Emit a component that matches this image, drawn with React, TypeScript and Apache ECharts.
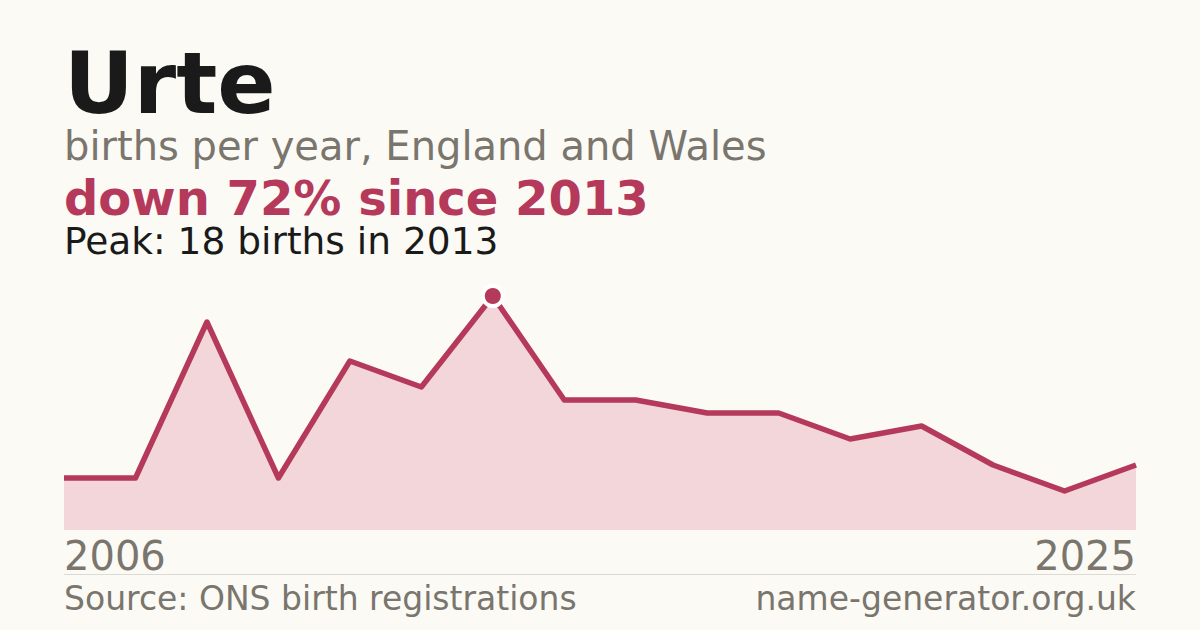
import React, { useEffect, useRef } from "react";
import * as echarts from "echarts";

const years = [
  "2006", "2007", "2008", "2009", "2010", "2012", "2013", "2014",
  "2015", "2016", "2018", "2019", "2020", "2022", "2024", "2025",
];
const births = [4, 4, 16, 4, 13, 11, 18, 10, 10, 9, 9, 7, 8, 5, 3, 5];

const titleText = "Urte";
const subtitleText = "births per year, England and Wales";
const changeText = "down 72% since 2013";
const peakText = "Peak: 18 births in 2013";
const sourceText = "Source: ONS birth registrations";
const siteText = "name-generator.org.uk";

const BG = "#fbfaf5";
const RED = "#b5395a";
const AREA = "#f2d6da";
const GREY = "#7a756d";
const INK = "#1a1a1a";
const FONT = "'DejaVu Sans', sans-serif";

export default function App() {
  const ref = useRef<HTMLDivElement>(null);

  useEffect(() => {
    document.body.style.margin = "0";
    document.body.style.background = BG;
    if (!ref.current) return;
    const chart = echarts.init(ref.current, undefined, { renderer: "svg" });
    const peak = Math.max(...births);
    const peakIdx = births.indexOf(peak);
    const data = births.map((v, i) =>
      i === peakIdx
        ? {
            value: v,
            symbol: "circle",
            symbolSize: 20,
            itemStyle: { color: RED, borderColor: "#ffffff", borderWidth: 4 },
          }
        : { value: v, symbol: "none" }
    );
    const txt = (
      text: string,
      x: number,
      baseline: number,
      size: number,
      color: string,
      bold = false,
      align = "left"
    ) => ({
      type: "text",
      x,
      y: baseline - 0.346 * size,
      silent: true,
      style: {
        text,
        fill: color,
        font: `${bold ? "bold " : ""}${size}px ${FONT}`,
        lineHeight: Math.round(size * 0.95),
        textAlign: align,
        textVerticalAlign: "middle",
      },
    });
    chart.setOption({
      animation: false,
      backgroundColor: BG,
      grid: { left: 64, right: 64, top: 296, bottom: 100 },
      xAxis: {
        type: "category",
        data: years,
        boundaryGap: false,
        axisLine: { show: false },
        axisTick: { show: false },
        splitLine: { show: false },
        axisLabel: {
          show: true,
          interval: (i: number) => i === 0 || i === years.length - 1,
          color: GREY,
          fontSize: 40,
          fontFamily: FONT,
          margin: 6,
          alignMinLabel: "left",
          alignMaxLabel: "right",
        },
      },
      yAxis: {
        type: "value",
        min: 0,
        max: peak,
        show: false,
        splitLine: { show: false },
      },
      series: [
        {
          type: "line",
          data,
          showSymbol: true,
          symbol: "none",
          lineStyle: { color: RED, width: 5.5, join: "round" },
          areaStyle: { color: AREA, opacity: 1 },
          itemStyle: { color: RED },
          z: 3,
        },
      ],
      graphic: [
        txt(titleText, 64, 113, 86, INK, true),
        txt(subtitleText, 64, 160, 40, GREY),
        txt(changeText, 64, 215, 48, RED, true),
        txt(peakText, 64, 254, 37.5, INK),
        {
          type: "line",
          silent: true,
          shape: { x1: 64, y1: 574.5, x2: 1136, y2: 574.5 },
          style: { stroke: "#dddad3", lineWidth: 1 },
        },
        txt(sourceText, 64, 610, 33, GREY),
        txt(siteText, 1136, 610, 33, GREY, false, "right"),
      ],
    });
    return () => chart.dispose();
  }, []);

  return <div ref={ref} style={{ width: 1200, height: 630, background: BG }} />;
}
